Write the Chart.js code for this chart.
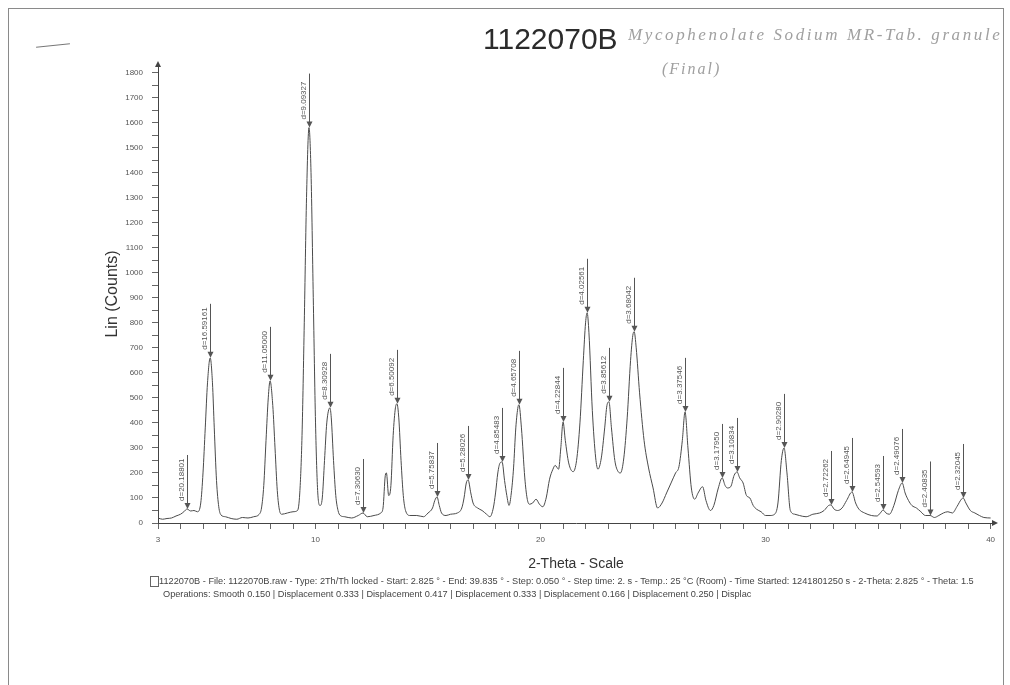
<!DOCTYPE html>
<html>
<head>
<meta charset="utf-8">
<title>1122070B</title>
<script src="https://cdn.jsdelivr.net/npm/chart.js@4.4.0/dist/chart.umd.min.js"></script>
<style>
  body { margin: 0; background: #fff; }
  #wrap { position: relative; width: 1010px; height: 685px; overflow: hidden; }
  #canvas { position: absolute; left: 0; top: 0; }
  .txt { position: absolute; white-space: nowrap; }
  #frame { position: absolute; left: 8px; top: 8px; width: 994px; height: 700px; border: 1px solid #8a8a8a; }
  #title { left: 483px; top: 22px; font: 30px "Liberation Sans", Arial, sans-serif; color: #2b2b2b; }
  #hand { left: 628px; top: 25px; width: 377px; overflow: hidden; font: italic 17px "Liberation Serif", serif; letter-spacing: 2.6px; color: #a0a0a0; }
  #hand2 { left: 662px; top: 60px; font: italic 16px "Liberation Serif", serif; letter-spacing: 2px; color: #a0a0a0; }
  #dash { position: absolute; left: 36px; top: 45px; width: 34px; height: 0; border-top: 1.5px solid #777; transform: rotate(-6deg); }
  .foot { font: 9.2px "Liberation Sans", Arial, sans-serif; color: #444; }
  #icon { position: absolute; left: 150px; top: 576px; width: 7px; height: 9px; border: 1px solid #666; }
</style>
</head>
<body>
<div id="wrap">
  <canvas id="canvas" width="1010" height="685"></canvas>
  <div id="frame"></div>
  <div id="dash"></div>
  <div class="txt" id="title">1122070B</div>
  <div class="txt" id="hand">Mycophenolate Sodium MR-Tab. granule</div>
  <div class="txt" id="hand2">(Final)</div>
  <div id="icon"></div>
  <div class="txt foot" style="left:159px; top:576px;">1122070B - File: 1122070B.raw - Type: 2Th/Th locked - Start: 2.825 ° - End: 39.835 ° - Step: 0.050 ° - Step time: 2. s - Temp.: 25 °C (Room) - Time Started: 1241801250 s - 2-Theta: 2.825 ° - Theta: 1.5</div>
  <div class="txt foot" style="left:163px; top:589px;">Operations: Smooth 0.150 | Displacement 0.333 | Displacement 0.417 | Displacement 0.333 | Displacement 0.166 | Displacement 0.250 | Displac</div>
</div>
<script>
// Dữ liệu: góc 2-Theta (độ) và cường độ (counts)
const theta = [
  3.0, 3.2, 3.4, 3.6, 3.8, 4.0, 4.15, 4.29, 4.45, 4.6, 4.75, 4.9,
  5.0, 5.1, 5.2, 5.32, 5.42, 5.5, 5.6, 5.7, 5.8, 6.0, 6.25, 6.5, 6.75,
  7.0, 7.25, 7.5, 7.6, 7.7, 7.8, 7.9, 7.98, 8.1, 8.2, 8.3, 8.4, 8.5, 8.75,
  9.0, 9.2, 9.3, 9.4, 9.5, 9.6, 9.71, 9.8, 9.9, 10.0, 10.1, 10.2, 10.3,
  10.4, 10.5, 10.64, 10.7, 10.8, 10.9, 11.0, 11.1, 11.3, 11.6, 11.9, 12.11,
  12.3, 12.6, 12.9, 13.0, 13.1, 13.15, 13.25, 13.35, 13.45, 13.55, 13.62,
  13.7, 13.8, 13.9, 14.0, 14.2, 14.5, 14.8, 15.0, 15.2, 15.3, 15.4, 15.5,
  15.6, 15.8, 16.0, 16.3, 16.5, 16.6, 16.7, 16.78, 16.9, 17.0, 17.2, 17.4,
  17.6, 17.75, 17.9, 18.0, 18.1, 18.2, 18.29, 18.4, 18.5, 18.6, 18.7, 18.8,
  18.9, 19.0, 19.04, 19.15, 19.3, 19.4, 19.5, 19.65, 19.8, 19.95, 20.1,
  20.25, 20.4, 20.55, 20.65, 20.8, 20.9, 21.0, 21.1, 21.25, 21.45, 21.6,
  21.75, 21.9, 22.0, 22.07, 22.15, 22.3, 22.45, 22.55, 22.7, 22.85, 22.95,
  23.04, 23.15, 23.3, 23.45, 23.55, 23.7, 23.85, 24.0, 24.1, 24.16, 24.25,
  24.4, 24.6, 24.8, 25.0, 25.2, 25.4, 25.6, 25.8, 26.0, 26.15, 26.3, 26.42,
  26.55, 26.7, 26.85, 27.0, 27.2, 27.35, 27.55, 27.7, 27.9, 28.07, 28.2,
  28.3, 28.45, 28.6, 28.73, 28.85, 29.0, 29.15, 29.3, 29.45, 29.6, 29.8,
  30.0, 30.2, 30.4, 30.55, 30.7, 30.82, 30.95, 31.1, 31.3, 31.5, 31.8, 32.1,
  32.4, 32.6, 32.8, 32.9, 33.05, 33.2, 33.4, 33.6, 33.84, 34.0, 34.15, 34.4,
  34.7, 34.95, 35.1, 35.22, 35.35, 35.5, 35.7, 35.9, 36.07, 36.2, 36.35,
  36.5, 36.7, 36.9, 37.1, 37.31, 37.5, 37.7, 37.9, 38.1, 38.3, 38.5, 38.7,
  38.78, 38.9, 39.1, 39.3, 39.5, 39.7, 40.0
];
const counts = [
  20, 15, 18, 20, 28, 35, 45, 56, 48, 50, 45, 80,
  200, 380, 560, 660, 560, 380, 170, 65, 32, 25, 18, 15, 22,
  20, 25, 35, 60, 150, 330, 500, 568, 470, 300, 130, 50, 35, 40,
  45, 50, 120, 350, 800, 1300, 1580, 1400, 900, 400, 120, 70, 100,
  250, 400, 460, 420, 250, 110, 50, 30, 25, 20, 30, 40,
  25, 30, 40, 60, 190, 200, 110, 150, 350, 460, 476,
  420, 250, 110, 50, 30, 30, 25, 40, 60, 90, 104, 70,
  40, 30, 35, 40, 60, 100, 160, 172, 120, 80, 60, 50,
  35, 25, 60, 120, 200, 240, 244, 170, 110, 70, 120, 220,
  380, 465, 472, 380, 180, 100, 75, 80, 95, 75, 65,
  100, 175, 215, 230, 215, 300, 404, 330, 240, 205, 250,
  400, 650, 800, 840, 760, 450, 260, 215, 260, 380, 470,
  484, 380, 250, 205, 200, 260, 420, 650, 750, 764, 700,
  520, 330, 220, 140, 60, 80, 120, 160, 200, 225, 330, 444,
  300, 140, 95, 120, 145, 90, 50, 70, 140, 180, 150,
  140, 145, 190, 204, 180, 160, 110, 100, 70, 55, 45,
  30, 30, 35, 80, 250, 300, 200, 50, 35, 30, 25, 35,
  40, 50, 70, 72, 55, 50, 60, 90, 124, 80, 55, 40,
  30, 28, 40, 52, 40, 35, 70, 130, 160, 120, 90,
  70, 60, 45, 30, 30, 22, 30, 40, 45, 40, 65, 95,
  100, 80, 50, 40, 30, 22, 20
];

// Các đỉnh được đánh dấu (vị trí, cường độ, nhãn d)
const peakTheta = [4.29, 5.32, 7.98, 9.71, 10.64, 12.11, 13.62, 15.4, 16.78, 18.29, 19.04, 21.0, 22.07,
  23.04, 24.16, 26.42, 28.07, 28.73, 30.82, 32.9, 33.84, 35.22, 36.07, 37.31, 38.78];
const peakCounts = [56, 660, 568, 1580, 460, 40, 476, 104, 172, 244, 472, 404, 840,
  484, 764, 444, 180, 204, 300, 72, 124, 52, 160, 30, 100];
const peakLabels = ['d=20.18801', 'd=16.59161', 'd=11.05000', 'd=9.09327', 'd=8.30928', 'd=7.30630',
  'd=6.50092', 'd=5.75837', 'd=5.28026', 'd=4.85483', 'd=4.65708', 'd=4.22844', 'd=4.02561',
  'd=3.85612', 'd=3.68042', 'd=3.37546', 'd=3.17950', 'd=3.10834', 'd=2.90280', 'd=2.72262',
  'd=2.64945', 'd=2.54593', 'd=2.49076', 'd=2.40835', 'd=2.32045'];

// Nhãn trục
const xTickLabels = [3, 10, 20, 30, 40];
const yTickMax = 1800;

const isWhole = v => Math.abs(v - Math.round(v)) < 1e-6;

// Plugin vẽ dấu đỉnh và mũi tên trục
const peakMarkers = {
  id: 'peakMarkers',
  afterDatasetsDraw(chart) {
    const { ctx, chartArea, scales: { x, y } } = chart;
    ctx.save();
    ctx.strokeStyle = '#555';
    ctx.fillStyle = '#555';
    ctx.lineWidth = 1;
    ctx.font = '8px "Liberation Sans", Arial, sans-serif';
    peakTheta.forEach((t, i) => {
      const px = Math.round(x.getPixelForValue(t)) + 0.5;
      const py = y.getPixelForValue(peakCounts[i]);
      ctx.beginPath();
      ctx.moveTo(px, py - 4);
      ctx.lineTo(px, py - 54);
      ctx.stroke();
      ctx.beginPath();
      ctx.moveTo(px - 3, py - 6);
      ctx.lineTo(px + 3, py - 6);
      ctx.lineTo(px, py);
      ctx.closePath();
      ctx.fill();
      ctx.save();
      ctx.translate(px - 1.5, py - 8);
      ctx.rotate(-Math.PI / 2);
      ctx.textAlign = 'left';
      ctx.textBaseline = 'bottom';
      ctx.fillText(peakLabels[i], 0, 0);
      ctx.restore();
    });
    // mũi tên cuối trục x
    ctx.fillStyle = '#444';
    ctx.beginPath();
    ctx.moveTo(chartArea.right - 2, chartArea.bottom - 3);
    ctx.lineTo(chartArea.right + 4, chartArea.bottom);
    ctx.lineTo(chartArea.right - 2, chartArea.bottom + 3);
    ctx.closePath();
    ctx.fill();
    // mũi tên đầu trục y
    ctx.beginPath();
    ctx.moveTo(chartArea.left - 3, chartArea.top + 2);
    ctx.lineTo(chartArea.left, chartArea.top - 4);
    ctx.lineTo(chartArea.left + 3, chartArea.top + 2);
    ctx.closePath();
    ctx.fill();
    ctx.restore();
  }
};

function renderChart() {
  const ctx = document.getElementById('canvas').getContext('2d');
  new Chart(ctx, {
    type: 'line',
    data: {
      datasets: [{
        label: '1122070B',
        data: theta.map((t, i) => ({ x: t, y: counts[i] })),
        borderColor: '#4a4a4a',
        borderWidth: 1,
        pointRadius: 0,
        fill: false,
        cubicInterpolationMode: 'monotone'
      }]
    },
    options: {
      responsive: false,
      animation: false,
      layout: { padding: { left: 100, top: 65, right: 16, bottom: 112 } },
      plugins: {
        legend: { display: false },
        tooltip: { enabled: false }
      },
      scales: {
        x: {
          type: 'linear',
          min: 3,
          max: 40.15,
          afterFit: s => { s.height = 50; },
          afterBuildTicks: s => { s.ticks = s.ticks.filter(t => isWhole(t.value) && t.value <= 40); },
          ticks: {
            stepSize: 1,
            includeBounds: false,
            autoSkip: false,
            maxRotation: 0,
            padding: 6,
            color: '#555',
            font: { family: '"Liberation Sans", Arial, sans-serif', size: 8 },
            callback: v => xTickLabels.some(l => isWhole(v) && Math.round(v) === l) ? String(Math.round(v)) : ''
          },
          grid: { drawOnChartArea: false, drawTicks: true, tickLength: 6, color: '#666' },
          border: { display: true, color: '#444', width: 1 },
          title: {
            display: true,
            text: '2-Theta - Scale',
            color: '#333',
            padding: 0,
            font: { family: '"Liberation Sans", Arial, sans-serif', size: 14 }
          }
        },
        y: {
          min: 0,
          max: 1830,
          afterFit: s => { s.width = 58; },
          afterBuildTicks: s => { s.ticks = s.ticks.filter(t => t.value % 50 === 0 && t.value <= yTickMax); },
          ticks: {
            stepSize: 50,
            includeBounds: false,
            autoSkip: false,
            padding: 9,
            color: '#555',
            font: { family: '"Liberation Sans", Arial, sans-serif', size: 8 },
            callback: v => v % 100 === 0 ? String(v) : ''
          },
          grid: { drawOnChartArea: false, drawTicks: true, tickLength: 6, color: '#666' },
          border: { display: true, color: '#444', width: 1 },
          title: {
            display: true,
            text: 'Lin (Counts)',
            color: '#333',
            padding: { top: 3, bottom: 0 },
            font: { family: '"Liberation Sans", Arial, sans-serif', size: 16 }
          }
        }
      }
    },
    plugins: [peakMarkers]
  });
}

renderChart();
</script>
</body>
</html>
